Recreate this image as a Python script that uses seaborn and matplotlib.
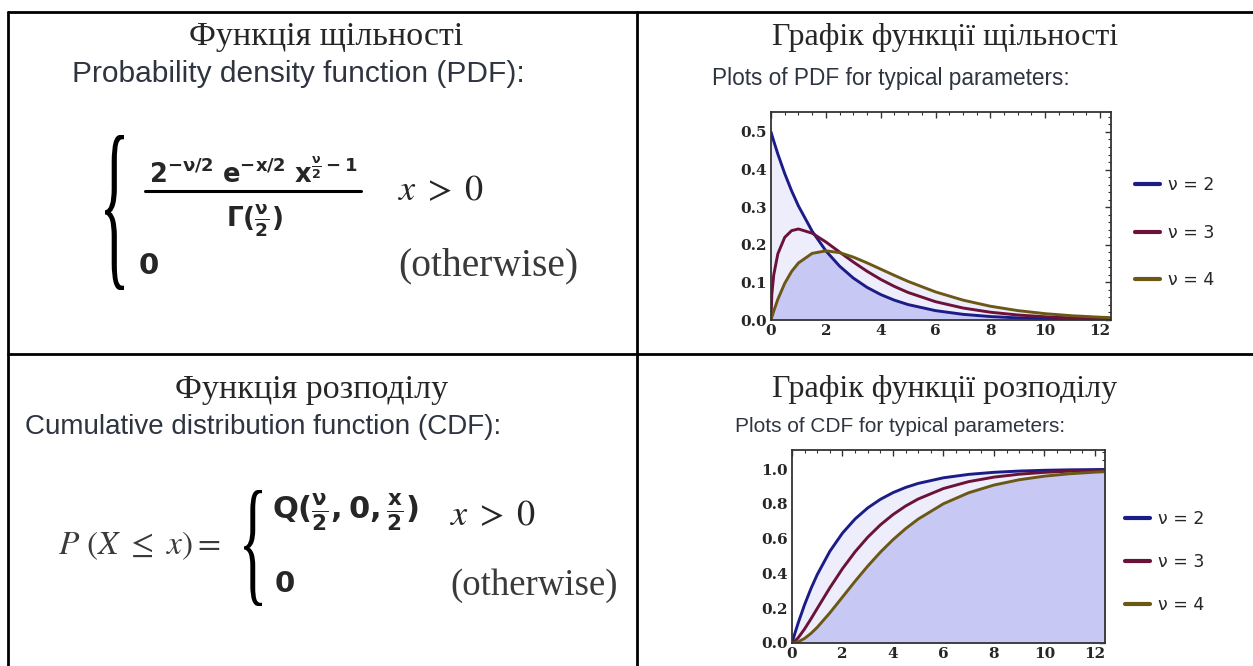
import matplotlib
matplotlib.use('Agg')
import matplotlib.pyplot as plt
import numpy as np
import pandas as pd
import seaborn as sns
from matplotlib.textpath import TextPath
from matplotlib.patches import PathPatch
from matplotlib.font_manager import FontProperties
from matplotlib.transforms import Affine2D
from matplotlib.ticker import MultipleLocator

# --- values ---
x_vals = [0, 0.03, 0.1, 0.25, 0.5, 0.75, 1, 1.5, 2, 2.5, 3, 3.5, 4, 4.5, 5,
          6, 7, 8, 9, 10, 11, 12, 12.5]

pdf_v2 = [0.5, 0.4925, 0.4756, 0.4412, 0.3894, 0.3436, 0.3033, 0.2362, 0.1839,
          0.1433, 0.1116, 0.0869, 0.0677, 0.0527, 0.0410, 0.0249, 0.0151,
          0.0092, 0.0056, 0.0034, 0.0020, 0.0012, 0.0010]
pdf_v3 = [0, 0.0681, 0.1200, 0.1760, 0.2197, 0.2375, 0.2420, 0.2308, 0.2076,
          0.1807, 0.1542, 0.1297, 0.1080, 0.0892, 0.0732, 0.0487, 0.0319,
          0.0207, 0.0133, 0.0085, 0.0054, 0.0034, 0.0027]
pdf_v4 = [0, 0.0074, 0.0238, 0.0552, 0.0974, 0.1289, 0.1516, 0.1771, 0.1839,
          0.1791, 0.1673, 0.1520, 0.1353, 0.1186, 0.1026, 0.0747, 0.0529,
          0.0366, 0.0250, 0.0168, 0.0112, 0.0074, 0.0060]

cdf_v2 = [0, 0.0149, 0.0488, 0.1175, 0.2212, 0.3127, 0.3935, 0.5276, 0.6321,
          0.7135, 0.7769, 0.8262, 0.8647, 0.8946, 0.9179, 0.9502, 0.9698,
          0.9817, 0.9889, 0.9933, 0.9959, 0.9975, 0.9981]
cdf_v3 = [0, 0.0014, 0.0082, 0.0309, 0.0811, 0.1386, 0.1987, 0.3177, 0.4276,
          0.5247, 0.6084, 0.6792, 0.7385, 0.7877, 0.8282, 0.8884, 0.9281,
          0.9540, 0.9707, 0.9814, 0.9883, 0.9926, 0.9942]
cdf_v4 = [0, 0.0001, 0.0012, 0.0072, 0.0265, 0.0550, 0.0902, 0.1734, 0.2642,
          0.3554, 0.4422, 0.5221, 0.5940, 0.6575, 0.7127, 0.8009, 0.8641,
          0.9084, 0.9389, 0.9596, 0.9734, 0.9826, 0.9860]

nu_labels = ['ν = 2', 'ν = 3', 'ν = 4']
line_colors = ['#1c1c87', '#6a1238', '#6b5816']

titles = ['Функція щільності', 'Графік функції щільності',
          'Функція розподілу', 'Графік функції розподілу']
subtitles = ['Probability density function (PDF):', 'Plots of PDF for typical parameters:',
             'Cumulative distribution function (CDF):', 'Plots of CDF for typical parameters:']

sns.set_theme(style='white')
plt.rcParams['font.family'] = ['DejaVu Sans']
plt.rcParams['mathtext.fontset'] = 'dejavusans'

W, H = 1253, 666
fig = plt.figure(figsize=(W / 100, H / 100), dpi=100)

# canvas axes in pixel coordinates for the table and the formulas
cv = fig.add_axes([0, 0, 1, 1])
cv.set_xlim(0, W)
cv.set_ylim(H, 0)
cv.axis('off')

# table lines
lw_tab = 2
cv.plot([8, W], [12, 12], color='black', lw=lw_tab)
cv.plot([8, W], [354, 354], color='black', lw=lw_tab)
cv.plot([8, 8], [12, H], color='black', lw=lw_tab)
cv.plot([637, 637], [12, H], color='black', lw=lw_tab)


def brace(x0, y0, w, h):
    tp = TextPath((0, 0), '{', size=1, prop=FontProperties(family='Liberation Serif'))
    ext = tp.get_extents()
    tr = (Affine2D().translate(-ext.x0, -ext.y1)
          .scale(w / ext.width, -h / ext.height).translate(x0, y0))
    cv.add_patch(PathPatch(tr.transform_path(tp), fc='black', ec='none'))


serif = 'Liberation Serif'
sans = 'Liberation Sans'
sub_col = '#2e3440'
gray = '#3a3a3a'
cond = r'$x\;>\;0$'

# titles and subtitles
cv.text(326, 37, titles[0], family=serif, fontsize=24.5, ha='center', va='center')
cv.text(72, 74, subtitles[0], family=sans, fontsize=21.5, color=sub_col, ha='left', va='center')
cv.text(945, 37, titles[1], family=serif, fontsize=23, ha='center', va='center')
cv.text(712, 78, subtitles[1], family=sans, fontsize=16.3, color=sub_col, ha='left', va='center')
cv.text(312, 390, titles[2], family=serif, fontsize=24.5, ha='center', va='center')
cv.text(25, 427, subtitles[2], family=sans, fontsize=20, color=sub_col, ha='left', va='center')
cv.text(945, 390, titles[3], family=serif, fontsize=23, ha='center', va='center')
cv.text(735, 427, subtitles[3], family=sans, fontsize=15, color=sub_col, ha='left', va='center')

# PDF formula
brace(105, 135, 19, 155)
cv.text(253, 183, r'$\mathbf{2^{-\nu/2}\ e^{-x/2}\ x^{\frac{\nu}{2}-1}}$',
        fontsize=18.5, ha='center', va='baseline')
cv.plot([145, 361], [191, 191], color='black', lw=2.2)
cv.text(254, 221, r'$\mathbf{\Gamma(\frac{\nu}{2})}$', fontsize=19, ha='center', va='center')
cv.text(398, 190, cond, math_fontfamily='stix', fontsize=26, ha='left', va='center')
cv.text(138, 266, r'$\mathbf{0}$', fontsize=21, ha='left', va='center')
cv.text(398, 266, '(otherwise)', family=serif, fontsize=28.5, color=gray, ha='left', va='center')

# CDF formula
cv.text(58, 545, r'$P\ (X\ \leq\ x) =$', math_fontfamily='stix', fontsize=24, color=gray,
        ha='left', va='center')
brace(244, 490, 18, 116)
cv.text(272, 512, r'$\mathbf{Q(\frac{\nu}{2},0,\frac{x}{2})}$', fontsize=22, ha='left', va='center')
cv.text(450, 515, cond, math_fontfamily='stix', fontsize=26, ha='left', va='center')
cv.text(274, 584, r'$\mathbf{0}$', fontsize=21, ha='left', va='center')
cv.text(450, 586, '(otherwise)', family=serif, fontsize=26.5, color=gray, ha='left', va='center')


def chi_panel(rect, series, ylim, ymajor, yminor, leg_y, leg_x, leg_space):
    ax = fig.add_axes(rect)
    df = pd.DataFrame({'x': x_vals * 3,
                       'y': series[0] + series[1] + series[2],
                       'nu': sum([[n] * len(x_vals) for n in nu_labels], [])})
    lo = np.min(series, axis=0)
    hi = np.max(series, axis=0)
    ax.fill_between(x_vals, lo, hi, color='#ededfb', lw=0)
    ax.fill_between(x_vals, 0, lo, color='#c8c8f4', lw=0)
    sns.lineplot(data=df, x='x', y='y', hue='nu', palette=line_colors, linewidth=2.1,
                 ax=ax, legend=True)
    ax.set_xlim(0, 12.4)
    ax.set_ylim(*ylim)
    ax.set_xlabel('')
    ax.set_ylabel('')
    ax.xaxis.set_major_locator(MultipleLocator(2))
    ax.xaxis.set_minor_locator(MultipleLocator(0.5))
    ax.yaxis.set_major_locator(MultipleLocator(ymajor))
    ax.yaxis.set_minor_locator(MultipleLocator(yminor))
    ax.yaxis.set_major_formatter('{x:.1f}')
    ax.tick_params(which='both', direction='in', top=True, right=True, color='#333333')
    ax.tick_params(which='major', length=4, width=1, pad=3)
    ax.tick_params(which='minor', length=2, width=0.8)
    for lab in ax.get_xticklabels() + ax.get_yticklabels():
        lab.set_fontfamily('DejaVu Serif')
        lab.set_fontweight('bold')
        lab.set_fontsize(11)
    for s in ax.spines.values():
        s.set_color('#333333')
        s.set_linewidth(1.3)
    leg = ax.legend(loc='center left', bbox_to_anchor=(1 + leg_x, leg_y), frameon=False,
                    borderpad=0, borderaxespad=0, handlelength=1.45, handletextpad=0.45,
                    labelspacing=leg_space, prop={'family': 'DejaVu Sans', 'size': 12.5})
    for h in leg.get_lines():
        h.set_linewidth(3)
    return ax


pdf_rect = [771 / W, 1 - 320 / H, 340 / W, 208 / H]
cdf_rect = [792 / W, 1 - 643 / H, 313 / W, 193 / H]
chi_panel(pdf_rect, [pdf_v2, pdf_v3, pdf_v4], (0, 0.553), 0.1, 0.02, 0.42, 0.07, 1.7)
chi_panel(cdf_rect, [cdf_v2, cdf_v3, cdf_v4], (0, 1.11), 0.2, 0.05, 0.42, 0.064, 1.45)

fig.savefig('out.png', dpi=100)
